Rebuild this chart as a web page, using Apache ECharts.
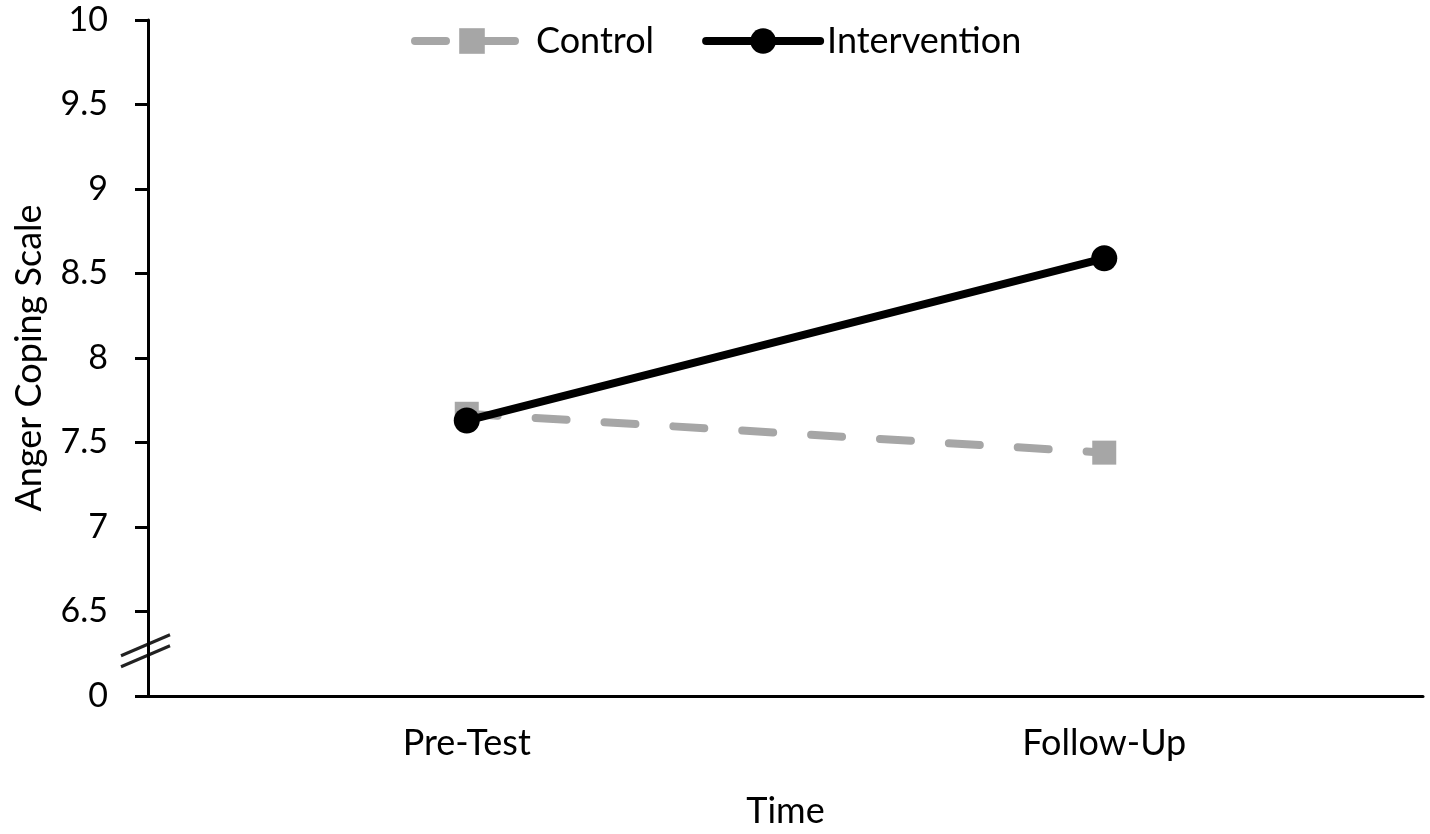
<!DOCTYPE html>
<html>
<head>
<meta charset="utf-8">
<script src="https://cdn.jsdelivr.net/npm/echarts@6/dist/echarts.min.js"></script>
<style>
  html, body { margin: 0; padding: 0; background: #fff; }
  #chart { width: 1430px; height: 834px; }
</style>
</head>
<body>
<div id="chart"></div>
<script>
// data
var categories = ['Pre-Test', 'Follow-Up'];
var controlValues = [7.67, 7.44];
var interventionValues = [7.63, 8.59];
var yTicks = { min: 6, max: 10, step: 0.5 };

var FONT = 'Lato';
var GRID_LEFT = 148;

var chart = echarts.init(document.getElementById('chart'));

var option = {
  backgroundColor: '#fff',
  animation: false,
  textStyle: { fontFamily: FONT },
  legend: {
    top: 18,
    left: 406,
    itemWidth: 114,
    itemHeight: 32,
    itemGap: 48,
    lineStyle: { width: 8, cap: 'round' },
    textStyle: { fontFamily: FONT, fontSize: 36, color: '#000', padding: [0, 0, 0, 2] },
    data: ['Control', 'Intervention']
  },
  grid: { left: GRID_LEFT, right: 7, top: 20, bottom: 137 },
  xAxis: {
    type: 'category',
    data: categories,
    boundaryGap: true,
    name: 'Time',
    nameLocation: 'middle',
    nameGap: 97,
    nameTextStyle: { fontFamily: FONT, fontSize: 36, color: '#000' },
    axisLine: { lineStyle: { color: '#000', width: 3 } },
    axisTick: { show: false },
    axisLabel: { fontFamily: FONT, fontSize: 36, color: '#000', margin: 29 },
    splitLine: { show: false }
  },
  yAxis: {
    type: 'value',
    min: yTicks.min,
    max: yTicks.max,
    interval: yTicks.step,
    name: 'Anger Coping Scale',
    nameLocation: 'middle',
    nameGap: 101,
    nameTextStyle: { fontFamily: FONT, fontSize: 36, color: '#000' },
    axisLine: { show: true, lineStyle: { color: '#000', width: 3 } },
    axisTick: { show: true, length: 13, lineStyle: { color: '#000', width: 3 } },
    axisLabel: {
      fontFamily: FONT, fontSize: 34, color: '#000', margin: 40,
      formatter: function (v) {
        return v === yTicks.min ? '0' : String(v);
      }
    },
    splitLine: { show: false }
  },
  series: [
    {
      name: 'Control',
      type: 'line',
      data: controlValues,
      symbol: 'rect',
      symbolSize: 24,
      itemStyle: { color: '#a6a6a6' },
      lineStyle: { color: '#a6a6a6', width: 8, type: [31, 38], cap: 'round' },
      z: 2
    },
    {
      name: 'Intervention',
      type: 'line',
      data: interventionValues,
      symbol: 'circle',
      symbolSize: 26,
      itemStyle: { color: '#000' },
      lineStyle: { color: '#000', width: 8, cap: 'round' },
      z: 3
    }
  ]
};

chart.setOption(option);

// axis break marks between 0 and 6.5
var by = chart.convertToPixel({ yAxisIndex: 0 }, 6.25);
chart.setOption({
  graphic: [
    { type: 'line', shape: { x1: GRID_LEFT - 27, y1: by + 2, x2: GRID_LEFT + 22, y2: by - 19 },
      style: { stroke: '#222', lineWidth: 3 } },
    { type: 'line', shape: { x1: GRID_LEFT - 27, y1: by + 13, x2: GRID_LEFT + 22, y2: by - 8 },
      style: { stroke: '#222', lineWidth: 3 } }
  ]
});
</script>
</body>
</html>
